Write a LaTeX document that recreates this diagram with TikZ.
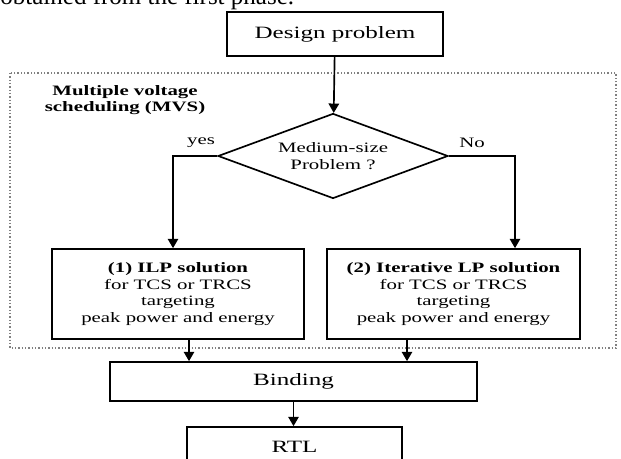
\documentclass[tikz,border=0pt]{standalone}
\usepackage{fontspec}
\setmainfont{Liberation Serif}[FakeStretch=1.45]
\newfontfamily\plainfont{Liberation Serif}
\usetikzlibrary{positioning}
\usetikzlibrary{shapes}
\usetikzlibrary{arrows.meta}

\newdimen\pxu
\pxu=0.48pt
\newcommand{\bodyfont}{\fontsize{6.9}{8}\selectfont}
\newcommand{\bigfont}{\fontsize{8.3}{9.6}\selectfont}

\begin{document}
\begin{tikzpicture}[x=0.48pt, y=-0.48pt,
        b/.style={draw, line width=0.8pt, align=center, inner sep=0pt, font=\bodyfont},
        big/.style={font=\bigfont},
        dia/.style={diamond, draw, line width=0.8pt, aspect=2.7, inner sep=0pt, align=center, font=\bodyfont},
        lbl/.style={align=center, inner sep=0pt, font=\bodyfont},
        arr/.style={-{Triangle[width=5pt,length=4.5pt]}, line width=0.8pt},
        frame/.style={draw=gray, densely dotted, line width=0.6pt}]
            \useasboundingbox (0,0) rectangle (621,459);
            \clip (0,0) rectangle (621,459);

            \node[anchor=base west, inner sep=0pt, font=\plainfont\fontsize{12}{14}\selectfont] (prev) at (0,5) {obtained from the first phase.};

            \draw[frame] (10,73) rectangle (616,348);
            \node[lbl, font=\bodyfont\bfseries] (mvs) at (125,100) {Multiple voltage\\scheduling (MVS)};

            \node[b, big, minimum width=216\pxu, minimum height=44\pxu] (design) at (335,34) {Design problem};
            \node[dia, minimum width=230\pxu, minimum height=85\pxu] (dec) at (333,156) {Medium-size\\Problem ?};
            \node[lbl] (yes) at (201,143) {yes};
            \node[lbl] (no) at (472,143) {No};

            \node[b, minimum width=252\pxu, minimum height=90\pxu] (ilp) at (178,294) {\textbf{(1) ILP solution}\\for TCS or TRCS\\targeting\\peak power and energy};
            \node[b, minimum width=253\pxu, minimum height=90\pxu] (lp) at (453.5,294) {\textbf{(2) Iterative LP solution}\\for TCS or TRCS\\targeting\\peak power and energy};
            \node[b, big, minimum width=367\pxu, minimum height=39\pxu] (bind) at (293.5,381.5) {Binding};
            \node[b, big, minimum width=215\pxu, minimum height=40\pxu] (rtl) at (294.5,447) {RTL};

            \draw[arr] (design) -- (dec);
            \draw[arr] (dec.west) -| ([xshift=-5\pxu]ilp.north);
            \draw[arr] (dec.east) -| ([xshift=61.5\pxu]lp.north);
            \draw[arr] ([xshift=11\pxu]ilp.south) -- ([xshift=11\pxu]ilp.south |- bind.north);
            \draw[arr] ([xshift=-46.5\pxu]lp.south) -- ([xshift=-46.5\pxu]lp.south |- bind.north);
            \draw[arr] (bind.south) -- (bind.south |- rtl.north);
        \end{tikzpicture}
\end{document}
